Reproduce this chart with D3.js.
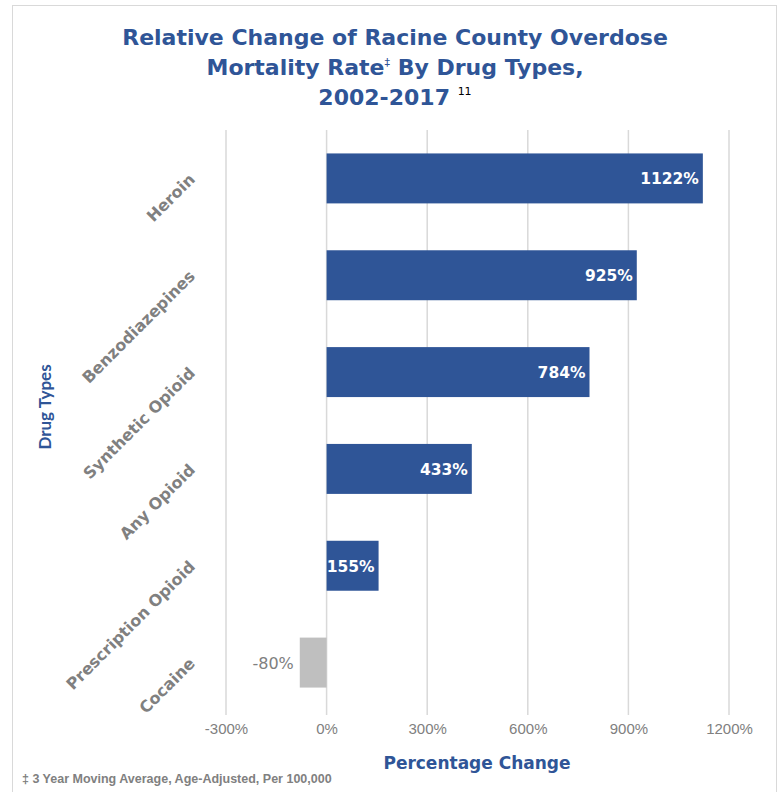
<!DOCTYPE html>
<html>
<head>
<meta charset="utf-8">
<script src="https://cdn.jsdelivr.net/npm/d3@7"></script>
<style>
  body { margin: 0; background: #fff; }
  text { font-family: "DejaVu Sans", sans-serif; }
</style>
</head>
<body>
<div id="chart"></div>
<script>
// data
var drugTypes = ['Heroin', 'Benzodiazepines', 'Synthetic Opioid', 'Any Opioid', 'Prescription Opioid', 'Cocaine'];
var pctChange = [1122, 925, 784, 433, 155, -80];
var tickValues = [-300, 0, 300, 600, 900, 1200];

var width = 780, height = 792;
var margin = { top: 130, right: 51, bottom: 81, left: 226 };
var chartWidth = width - margin.left - margin.right;
var chartHeight = height - margin.top - margin.bottom;

var blue = '#2F5597';
var grey = '#808080';

var svg = d3.select('#chart').append('svg')
    .attr('width', width)
    .attr('height', height);

// outer frame
svg.append('rect')
    .attr('x', 12.5).attr('y', 5.5)
    .attr('width', 764).attr('height', 800)
    .attr('fill', 'none')
    .attr('stroke', '#d9d9d9');

var rows = drugTypes.map((d, i) => ({ name: d, value: pctChange[i] }));

var xScale = d3.scaleLinear()
    .domain([-300, 1200])
    .range([0, 503]);

var yScale = d3.scaleBand()
    .domain(drugTypes)
    .range([0, chartHeight])
    .paddingInner(0.484)
    .paddingOuter(0.242);

var chartGroup = svg.append('g')
    .attr('transform', `translate(${margin.left}, ${margin.top})`);

// gridlines
chartGroup.selectAll('.grid')
    .data(tickValues)
    .enter()
    .append('line')
    .attr('x1', d => xScale(d)).attr('x2', d => xScale(d))
    .attr('y1', 0).attr('y2', chartHeight + 4)
    .attr('stroke', '#d9d9d9')
    .attr('stroke-width', 1.5);

// x axis labels
var xAxis = d3.axisBottom(xScale)
    .tickValues(tickValues)
    .tickSize(0)
    .tickPadding(12)
    .tickFormat(d => d + '%');

var xg = chartGroup.append('g')
    .attr('transform', `translate(0, ${chartHeight})`)
    .call(xAxis);
xg.select('.domain').remove();
xg.selectAll('text')
    .style('font-family', '"Liberation Sans", sans-serif')
    .style('font-size', '15px')
    .attr('fill', grey);

// bars
chartGroup.selectAll('.bar')
    .data(rows)
    .enter()
    .append('rect')
    .attr('x', d => xScale(Math.min(0, d.value)))
    .attr('y', d => yScale(d.name))
    .attr('width', d => Math.abs(xScale(d.value) - xScale(0)))
    .attr('height', yScale.bandwidth())
    .attr('fill', d => d.value < 0 ? '#bfbfbf' : blue);

// value labels
chartGroup.selectAll('.val')
    .data(rows)
    .enter()
    .append('text')
    .attr('x', d => d.value < 0 ? xScale(d.value) - 6 : xScale(d.value) - 4)
    .attr('y', d => yScale(d.name) + yScale.bandwidth() / 2 + 6)
    .attr('text-anchor', 'end')
    .style('font-size', d => d.value < 0 ? '16px' : '15.5px')
    .style('font-weight', d => d.value < 0 ? 'normal' : 'bold')
    .attr('fill', d => d.value < 0 ? grey : '#fff')
    .text(d => d.value + '%');

// category labels (rotated)
chartGroup.selectAll('.cat')
    .data(drugTypes)
    .enter()
    .append('text')
    .attr('transform', d => `translate(-30, ${yScale(d) + yScale.bandwidth() / 2 + 2}) rotate(-45)`)
    .attr('text-anchor', 'end')
    .style('font-size', '16px')
    .style('font-weight', 'bold')
    .attr('fill', grey)
    .text(d => d);

// axis titles
svg.append('text')
    .attr('x', 477).attr('y', 769)
    .attr('text-anchor', 'middle')
    .style('font-size', '17px')
    .style('font-weight', 'bold')
    .attr('fill', blue)
    .text('Percentage Change');

svg.append('text')
    .attr('transform', 'translate(51, 407) rotate(-90)')
    .attr('text-anchor', 'middle')
    .style('font-family', 'Lato, sans-serif')
    .style('font-size', '17px')
    .style('font-weight', 'bold')
    .attr('fill', blue)
    .text('Drug Types');

// title
var title = svg.append('text')
    .attr('text-anchor', 'middle')
    .style('font-size', '22px')
    .style('font-weight', 'bold')
    .attr('fill', blue);
title.append('tspan').attr('x', 395).attr('y', 45).text('Relative Change of Racine County Overdose');
var t2 = title.append('tspan').attr('x', 395).attr('y', 75);
t2.append('tspan').text('Mortality Rate');
t2.append('tspan').attr('dy', -9).style('font-size', '11px').style('font-weight', 'normal').text('‡');
t2.append('tspan').attr('dy', 9).text(' By Drug Types,');
var t3 = title.append('tspan').attr('x', 395).attr('y', 105);
t3.append('tspan').text('2002-2017 ');
t3.append('tspan').attr('dy', -10).style('font-size', '11px').style('font-weight', 'normal').attr('fill', '#000').text('11');

// footnote
svg.append('text')
    .attr('x', 22).attr('y', 783)
    .style('font-family', '"Liberation Sans", sans-serif')
    .style('font-size', '12.5px')
    .style('font-weight', 'bold')
    .attr('fill', grey)
    .text('‡ 3 Year Moving Average, Age-Adjusted, Per 100,000');
</script>
</body>
</html>
